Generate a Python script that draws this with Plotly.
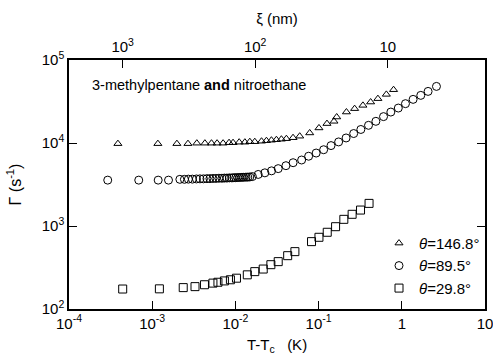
import plotly.graph_objects as go

# ---- data ----
tri_t = [3.87e-4, 1.17e-3, 1.98e-3, 2.69e-3, 3.44e-3, 4.30e-3, 5.16e-3, 6.02e-3, 7.11e-3,
         8.39e-3, 9.37e-3, 1.11e-2, 1.30e-2, 1.49e-2, 1.71e-2, 2.06e-2, 2.36e-2, 2.71e-2,
         3.11e-2, 3.57e-2, 4.10e-2, 4.93e-2, 5.93e-2, 7.82e-2, 0.101, 0.126, 0.153, 0.165,
         0.216, 0.271, 0.341, 0.422, 0.516, 0.652, 0.796]
tri_g = [9820, 9820, 9820, 9820, 9950, 9950, 9950, 9950, 9950,
         10090, 10090, 10230, 10230, 10370, 10370, 10510, 10660, 10810,
         10960, 11110, 11270, 11580, 12080, 13220, 15180, 17140, 18260, 20570,
         23620, 25950, 28420, 31150, 34220, 38540, 43870]

cir_t = [2.92e-4, 6.89e-4, 1.18e-3, 1.57e-3, 2.15e-3, 2.44e-3, 2.72e-3, 3.04e-3, 3.40e-3,
         3.75e-3, 4.13e-3, 4.55e-3, 4.94e-3, 5.37e-3, 5.83e-3, 6.34e-3, 6.89e-3, 7.38e-3,
         7.91e-3, 8.47e-3, 9.08e-3, 9.59e-3, 1.01e-2, 1.07e-2, 1.13e-2, 1.20e-2, 1.26e-2,
         1.34e-2, 1.41e-2, 1.49e-2, 1.60e-2, 1.88e-2, 2.26e-2, 2.72e-2, 3.27e-2, 4.05e-2,
         4.94e-2, 6.25e-2, 7.59e-2, 9.35e-2, 0.115, 0.141, 0.174, 0.214, 0.264, 0.322,
         0.398, 0.488, 0.603, 0.738, 0.908, 1.107, 1.367, 1.691, 2.07, 2.61]
cir_g = [3570, 3570, 3570, 3570, 3650, 3650, 3670, 3670, 3690,
         3700, 3700, 3720, 3720, 3740, 3740, 3760, 3760, 3780,
         3780, 3800, 3800, 3820, 3820, 3840, 3840, 3860, 3860,
         3880, 3880, 3900, 3940, 4180, 4370, 4620, 4910, 5330,
         5790, 6240, 6930, 7570, 8300, 9310, 10300, 11500, 13000, 14550,
         16330, 18250, 20790, 23600, 26370, 29780, 33550, 37480, 41850, 48050]

sq_t = [4.42e-4, 1.22e-3, 2.36e-3, 3.27e-3, 4.25e-3, 5.37e-3, 6.17e-3, 7.38e-3, 8.71e-3,
        1.03e-2, 1.39e-2, 1.71e-2, 2.16e-2, 2.67e-2, 3.27e-2, 4.25e-2, 5.19e-2, 8.22e-2,
        0.101, 0.127, 0.160, 0.201, 0.253, 0.319, 0.404]
sq_g = [174, 175, 181, 186, 196, 205, 210, 218, 225,
        235, 258, 282, 303, 342, 372, 439, 491, 648,
        731, 840, 981, 1203, 1383, 1556, 1873]

series_names = ["<i>θ</i>=146.8°", "<i>θ</i>=89.5°", "<i>θ</i>=29.8°"]

x_tickvals = [1e-4, 1e-3, 1e-2, 1e-1, 1, 10]
x_ticktext = ["10<sup>-4</sup>", "10<sup>-3</sup>", "10<sup>-2</sup>", "10<sup>-1</sup>", "1", "10"]
y_tickvals = [1e2, 1e3, 1e4, 1e5]
y_ticktext = ["10<sup>2</sup>", "10<sup>3</sup>", "10<sup>4</sup>", "10<sup>5</sup>"]
xi_tickvals = [1000, 100, 10]
xi_ticktext = ["10<sup>3</sup>", "10<sup>2</sup>", "10"]

FONT = "Liberation Sans"

fig = go.Figure()
mk = dict(color="black", size=8, line=dict(color="black", width=1))
fig.add_trace(go.Scatter(x=tri_t, y=tri_g, mode="markers", name=series_names[0],
                         marker=dict(symbol="triangle-up-open", **{**mk, "size": 7})))
fig.add_trace(go.Scatter(x=cir_t, y=cir_g, mode="markers", name=series_names[1],
                         marker=dict(symbol="circle-open", **mk)))
fig.add_trace(go.Scatter(x=sq_t, y=sq_g, mode="markers", name=series_names[2],
                         marker=dict(symbol="square-open", **mk)))
# empty trace so the top xi axis is drawn
fig.add_trace(go.Scatter(x=[], y=[], xaxis="x2", showlegend=False, hoverinfo="skip"))

axis_common = dict(showgrid=False, zeroline=False, showline=True, linecolor="black",
                   linewidth=1.5, ticks="inside", ticklen=8, tickwidth=1.2, tickcolor="black",
                   automargin=False, ticklabeloverflow="allow",
                   tickfont=dict(family=FONT, size=15, color="black"))

fig.update_layout(
    width=493, height=355,
    margin=dict(l=69, r=8, t=60, b=46),
    paper_bgcolor="white", plot_bgcolor="white",
    font=dict(family=FONT, color="black"),
    xaxis=dict(type="log", range=[-4, 1], tickvals=x_tickvals, ticktext=x_ticktext,
               mirror=True,
               title=dict(text="T-T<sub>c</sub>   (K)", font=dict(family=FONT, size=15), standoff=10),
               **axis_common),
    xaxis2=dict(type="log", range=[3.405, 0.266], overlaying="x", side="top", anchor="y",
                tickvals=xi_tickvals, ticktext=xi_ticktext,
                title=dict(text="ξ (nm)", font=dict(family=FONT, size=15), standoff=8),
                **axis_common),
    yaxis=dict(type="log", range=[2, 5], tickvals=y_tickvals, ticktext=y_ticktext,
               mirror="ticks",
               title=dict(text="Γ (s<sup>-1</sup>)", font=dict(family=FONT, size=16), standoff=16),
               **axis_common),
    legend=dict(x=1.0, y=0.33, xanchor="right", yanchor="top", bgcolor="rgba(0,0,0,0)",
                font=dict(family=FONT, size=15, color="black"), itemwidth=30,
                tracegroupgap=0),
    annotations=[dict(text="3-methylpentane <b>and</b> nitroethane", xref="paper", yref="paper",
                      x=0.05, y=0.9, xanchor="left", yanchor="middle", showarrow=False,
                      font=dict(family=FONT, size=14.5, color="black"))],
)

fig.write_html("out.html")
